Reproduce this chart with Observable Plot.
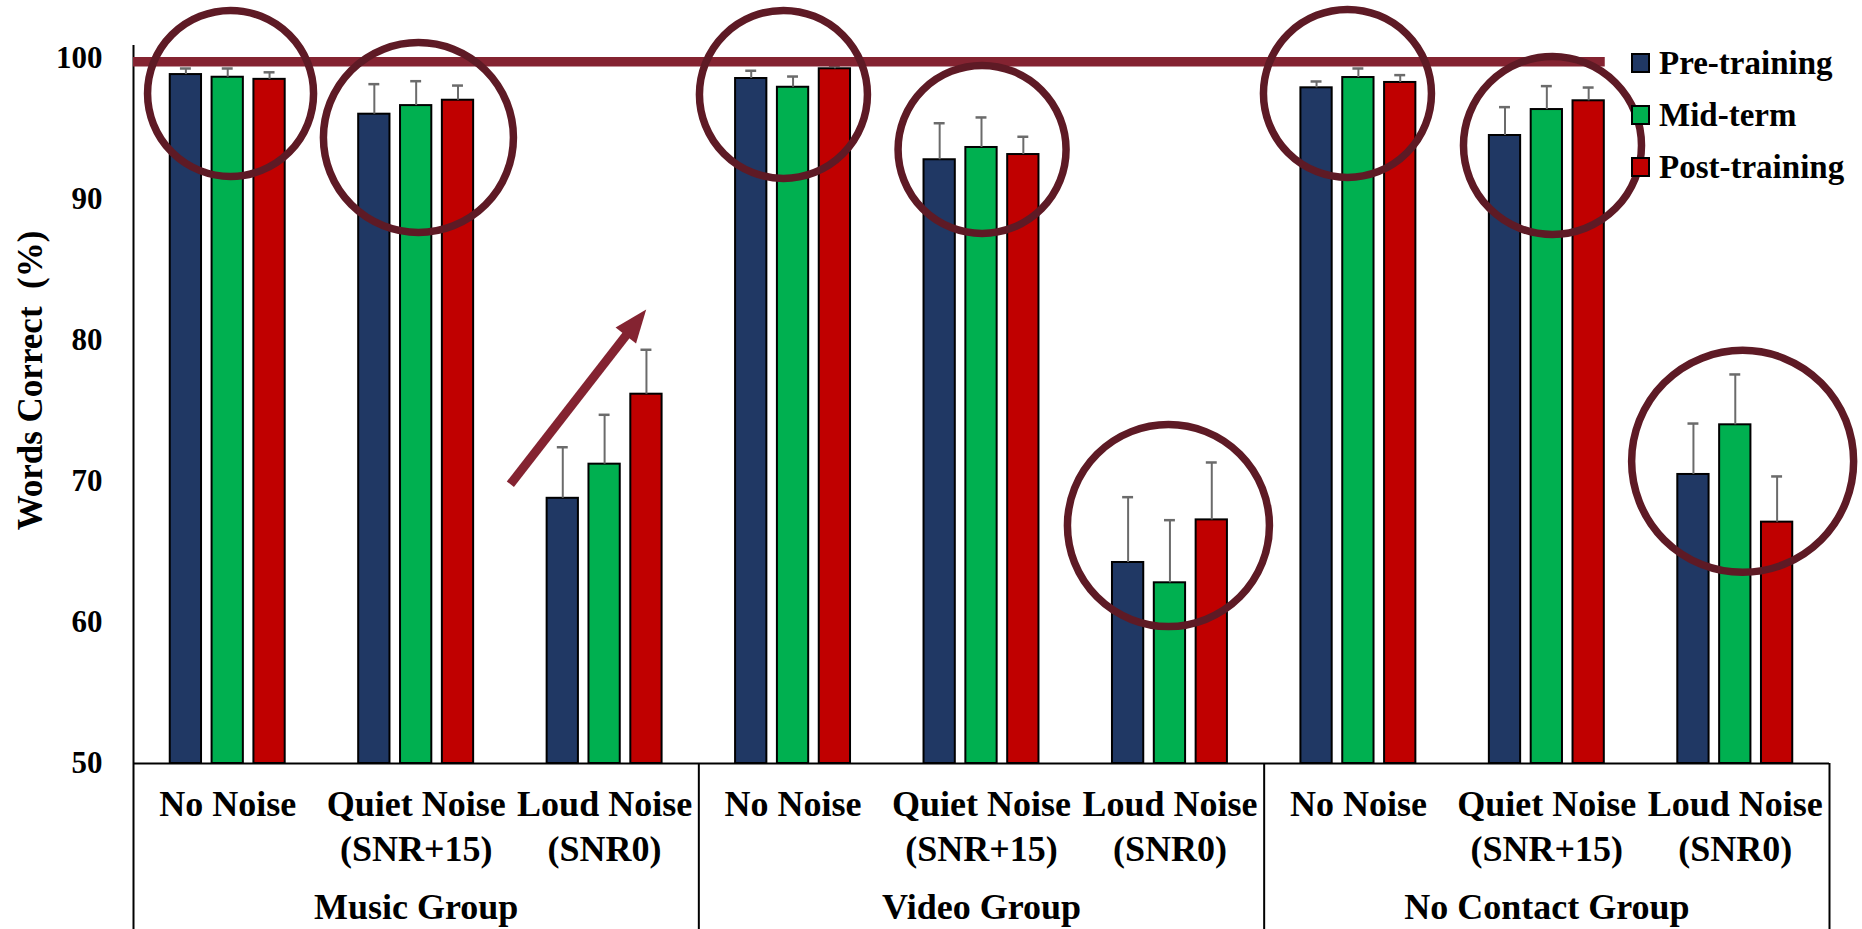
<!DOCTYPE html>
<html>
<head>
<meta charset="utf-8">
<script src="https://cdn.jsdelivr.net/npm/d3@7"></script>
<script src="https://cdn.jsdelivr.net/npm/@observablehq/plot@0.6"></script>
<style>
  html, body { margin: 0; padding: 0; background: #fff; }
  #chart { position: relative; width: 1862px; height: 929px; overflow: hidden; }
  #chart svg, #chart svg text { font-family: "Liberation Serif", "Times New Roman", "DejaVu Serif", serif !important; font-weight: bold; }
  #legend { position: absolute; left: 1631px; top: 37px; font-family: "Liberation Serif", "Times New Roman", "DejaVu Serif", serif; font-weight: bold; font-size: 33px; color: #000; }
  #legend .item { display: flex; align-items: center; height: 52.2px; white-space: nowrap; }
  #legend .sw { width: 15px; height: 16px; border: 2px solid #000; margin-right: 9px; }
</style>
</head>
<body>
<div id="chart"></div>
<script>
// ---------- data ----------
const groups = ["Music Group", "Video Group", "No Contact Group"];
const conditions = ["No Noise", "Quiet Noise\n(SNR+15)", "Loud Noise\n(SNR0)"];
const series = ["Pre-training", "Mid-term", "Post-training"];
const colors = ["#203864", "#00B050", "#C00000"];
const yTicks = [50, 60, 70, 80, 90, 100];

// means, in order Music(No, Quiet, Loud), Video(...), No Contact(...)
const preTraining  = [98.84, 96.03, 68.80, 98.56, 92.80, 64.25, 97.90, 94.52, 70.49];
const midTerm      = [98.65, 96.64, 71.22, 97.94, 93.67, 62.81, 98.63, 96.36, 74.01];
const postTraining = [98.50, 97.02, 76.18, 99.25, 93.17, 67.27, 98.28, 96.98, 67.11];
// upper end of the error bars
const preUpper  = [99.27, 98.16, 72.42, 99.11, 95.39, 68.88, 98.35, 96.53, 74.10];
const midUpper  = [99.27, 98.37, 74.72, 98.70, 95.80, 67.25, 99.27, 98.02, 77.58];
const postUpper = [99.00, 98.06, 79.33, 99.46, 94.43, 71.34, 98.80, 97.92, 70.35];

// annotations
const referenceLevel = 99.74;           // horizontal maroon line
const highlightCircles = [              // category index, offset in band, level, radius(px)
  {cat: 0, at: 0.015,  level: 97.5,  r: 83},
  {cat: 1, at: 0.012,  level: 94.38, r: 95},
  {cat: 3, at: -0.051, level: 97.43, r: 84},
  {cat: 4, at: 0.003,  level: 93.53, r: 84},
  {cat: 5, at: -0.008, level: 66.87, r: 101},
  {cat: 6, at: -0.058, level: 97.5,  r: 84},
  {cat: 7, at: 0.03,   level: 93.81, r: 89},
  {cat: 8, at: 0.039,  level: 71.42, r: 111}
];
const trendArrow = {from: {cat: 2, at: -0.5, level: 69.8}, to: {cat: 2, at: 0.1215, level: 80.48}, head: {cat: 2, at: 0.1486, level: 80.96}};

// ---------- build table ----------
const means = [preTraining, midTerm, postTraining];
const uppers = [preUpper, midUpper, postUpper];
const offsets = [-0.222, 0, 0.222];
const halfW = 0.083;
const capHalf = 0.029;
const rows = [];
groups.forEach((g, gi) => conditions.forEach((c, ci) => series.forEach((s, si) => {
  const k = gi * 3 + ci;
  rows.push({group: g, condition: c, series: s, si, k, center: k + 0.5 + offsets[si], value: means[si][k], upper: uppers[si][k]});
})));
const catTicks = d3.range(9).map(i => i + 0.5);
const groupTicks = [1.5, 4.5, 7.5];
const circ = highlightCircles.map(d => ({x: d.cat + 0.5 + d.at, y: d.level, r: d.r}));
const A = trendArrow;
const pos = p => p.cat + 0.5 + p.at;

// custom arrowhead symbol (narrow triangle, centroid at origin)
const arrowHead = {
  draw(context, size) {
    const r = Math.sqrt(size / Math.PI);
    context.moveTo(0, -1.333 * r);
    context.lineTo(0.788 * r, 0.667 * r);
    context.lineTo(-0.788 * r, 0.667 * r);
    context.closePath();
  }
};

const maroon = "#842331";
const ringColor = "#5e1a25";
const serifStack = "'Liberation Serif', 'Times New Roman', 'DejaVu Serif', serif";

const plot = Plot.plot({
  width: 1862,
  height: 929,
  marginLeft: 133,
  marginRight: 33,
  marginTop: 45,
  marginBottom: 166,
  style: {fontFamily: serifStack},
  x: {type: "linear", domain: [0, 9]},
  y: {domain: [50, 100.9]},
  r: {type: "identity"},
  color: {domain: series, range: colors},
  marks: [
    Plot.rectY(rows, {x1: d => d.center - halfW, x2: d => d.center + halfW, y1: 50, y2: "value", fill: "series", stroke: "#000", strokeWidth: 2}),
    Plot.ruleX(rows, {x: "center", y1: "value", y2: "upper", stroke: "#6b6b6b", strokeWidth: 2}),
    Plot.ruleY(rows, {y: "upper", x1: d => d.center - capHalf, x2: d => d.center + capHalf, stroke: "#6b6b6b", strokeWidth: 2.5}),
    // axes / table lines
    Plot.ruleY([50], {x1: 0, x2: 9, stroke: "#000", strokeWidth: 2}),
    Plot.ruleX([0], {y1: 38, y2: 100.9, stroke: "#000", strokeWidth: 2}),
    Plot.ruleX([3, 6, 9], {y1: 38, y2: 50, stroke: "#000", strokeWidth: 2}),
    Plot.axisY({ticks: yTicks, tickSize: 0, tickPadding: 31, fontSize: 31, fontFamily: serifStack, fontWeight: "bold", label: null}),
    Plot.axisX({ticks: catTicks, tickFormat: t => conditions[Math.floor(t) % 3], tickSize: 0, tickPadding: 21, fontSize: 36, fontFamily: serifStack, fontWeight: "bold", lineHeight: 1.25, label: null}),
    Plot.axisX({ticks: groupTicks, tickFormat: t => groups[Math.floor(t / 3)], tickSize: 0, tickPadding: 130, fontSize: 36, fontFamily: serifStack, fontWeight: "bold", label: null}),
    Plot.text(["Words Correct\u00a0\u00a0(%)"], {text: d => d, frameAnchor: "left", textAnchor: "middle", rotate: -90, dx: -103, dy: -24, fontSize: 35, fontFamily: serifStack, fontWeight: "bold"}),
    // reference line
    Plot.ruleY([referenceLevel], {x1: 0, x2: 7.81, stroke: maroon, strokeWidth: 9.5}),
    // trend arrow
    Plot.link([A], {x1: d => pos(d.from), y1: d => d.from.level, x2: d => pos(d.to), y2: d => d.to.level, stroke: maroon, strokeWidth: 9, strokeLinecap: "butt"}),
    Plot.dot([A], {x: d => pos(d.head), y: d => d.head.level, r: 16.5, symbol: arrowHead, rotate: 38.15, fill: maroon, stroke: "none"}),
    // highlight rings
    Plot.dot(circ, {x: "x", y: "y", r: "r", stroke: ringColor, strokeWidth: 7.5, fill: "none"})
  ]
});

const chart = document.getElementById("chart");
chart.appendChild(plot);

// legend
const legend = d3.select(chart).append("div").attr("id", "legend");
const items = legend.selectAll(".item").data(series).join("div").attr("class", "item");
items.append("div").attr("class", "sw").style("background", (d, i) => colors[i]);
items.append("span").text(d => d);
</script>
</body>
</html>
